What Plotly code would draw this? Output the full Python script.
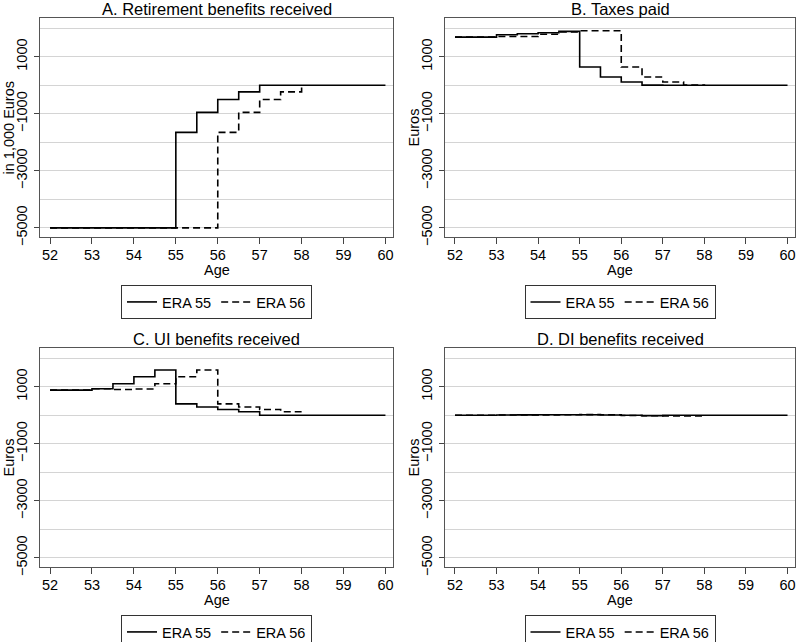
import plotly.graph_objects as go

ages_55 = [52, 52.5, 53, 53.5, 54, 54.5, 55, 55.5, 56, 56.5, 57, 57.5, 58, 58.5, 59, 59.5, 60]
ages_56 = [52, 52.5, 53, 53.5, 54, 54.5, 55, 55.5, 56, 56.5, 57, 57.5, 58]

ret_55 = [-5000, -5000, -5000, -5000, -5000, -5000, -1650, -950, -500, -230, 0, 0, 0, 0, 0, 0, 0]
ret_56 = [-5000, -5000, -5000, -5000, -5000, -5000, -5000, -5000, -1650, -950, -500, -230, 0]

tax_55 = [1690, 1690, 1775, 1810, 1845, 1890, 640, 290, 115, 5, 0, 0, 0, 0, 0, 0, 0]
tax_56 = [1690, 1690, 1710, 1710, 1790, 1870, 1915, 1915, 640, 290, 115, 10, 5]

ui_55 = [883, 883, 930, 1105, 1353, 1590, 400, 290, 205, 126, 0, 0, 0, 0, 0, 0, 0]
ui_56 = [883, 883, 930, 905, 920, 1105, 1353, 1590, 400, 290, 205, 126, 126]

di_55 = [0, 0, 10, 15, 20, 20, 20, 10, 0, -10, 0, 0, 0, 0, 0, 0, 0]
di_56 = [0, 0, 10, 10, 15, 20, 25, 20, -5, -15, -20, -20, -20]

titles = ["A. Retirement benefits received", "B. Taxes paid",
          "C. UI benefits received", "D. DI benefits received"]
ytitles = ["in 1,000 Euros", "Euros", "Euros", "Euros"]
series_names = ["ERA 55", "ERA 56"]
x_ticks = [52, 53, 54, 55, 56, 57, 58, 59, 60]
y_ticks = [-5000, -3000, -1000, 1000]

panels = [(ret_55, ret_56), (tax_55, tax_56), (ui_55, ui_56), (di_55, di_56)]

W, H = 800, 642
FONT = "Liberation Sans, Arial, sans-serif"
FS = 14.5

# pixel boxes (left, right, top, bottom)
boxes = [(40, 393, 18, 237), (445, 795, 18, 237),
         (40, 393, 348, 567), (445, 795, 348, 567)]

fig = go.Figure()
layout = dict(
    width=W, height=H, margin=dict(l=0, r=0, t=0, b=0, autoexpand=False),
    paper_bgcolor="white", plot_bgcolor="white", showlegend=True,
    font=dict(family=FONT, size=FS, color="black"),
)
annotations = []

for i, ((s55, s56), (l, r, t, b)) in enumerate(zip(panels, boxes)):
    k = "" if i == 0 else str(i + 1)
    leg = "legend" if i == 0 else f"legend{i + 1}"
    fig.add_trace(go.Scatter(x=ages_55, y=s55, mode="lines", line_shape="hv",
                             name=series_names[0], line=dict(color="black", width=1.6),
                             xaxis="x" + k, yaxis="y" + k, legend=leg))
    fig.add_trace(go.Scatter(x=ages_56, y=s56, mode="lines", line_shape="hv",
                             name=series_names[1],
                             line=dict(color="black", width=1.6, dash="7px,4px"),
                             xaxis="x" + k, yaxis="y" + k, legend=leg))
    layout["xaxis" + k] = dict(
        domain=[l / W, r / W], anchor="y" + k, range=[51.76, 60.18],
        tickvals=x_ticks, ticks="outside", ticklen=6, tickcolor="#444",
        showgrid=False, zeroline=False, showline=True, mirror=True,
        linecolor="#555", linewidth=1, tickfont=dict(size=FS),
        ticklabeloverflow="allow", ticklabelstandoff=-1,
    )
    layout["yaxis" + k] = dict(
        domain=[1 - b / H, 1 - t / H], anchor="x" + k, range=[-5320, 2360],
        tickvals=y_ticks, ticktext=[str(v).replace("-", "\u2212") for v in y_ticks],
        tickangle=-90, ticks="outside", ticklen=5, tickcolor="#444",
        showgrid=True, gridcolor="#d4d4d4", gridwidth=1,
        minor=dict(dtick=1000, tick0=0, showgrid=True, gridcolor="#d4d4d4", ticks=""),
        zeroline=False, showline=True, mirror=True, linecolor="#555", linewidth=1,
        tickfont=dict(size=FS), ticklabeloverflow="allow", ticklabelstandoff=1,
    )
    cx = (l + r) / 2
    annotations.append(dict(text=titles[i], x=cx / W, y=1 - (t - 9) / H,
                            xref="paper", yref="paper", showarrow=False,
                            xanchor="center", yanchor="middle", font=dict(size=16.5)))
    annotations.append(dict(text="Age", x=cx / W, y=1 - (b + 33) / H,
                            xref="paper", yref="paper", showarrow=False,
                            xanchor="center", yanchor="middle", font=dict(size=FS)))
    annotations.append(dict(text=ytitles[i], x=(l - 32) / W, y=1 - ((t + b) / 2) / H,
                            xref="paper", yref="paper", showarrow=False, textangle=-90,
                            xanchor="center", yanchor="middle", font=dict(size=FS)))
    layout[leg] = dict(
        x=cx / W, xanchor="center", y=1 - (b + 48) / H, yanchor="top",
        orientation="h", bordercolor="#333", borderwidth=1, bgcolor="white",
        font=dict(size=FS), itemwidth=30, tracegroupgap=0,
    )

layout["annotations"] = annotations
fig.update_layout(**layout)
fig.write_html("out.html", config={"displayModeBar": False},
               post_script="document.body.style.margin='0';document.body.style.overflow='hidden';")
